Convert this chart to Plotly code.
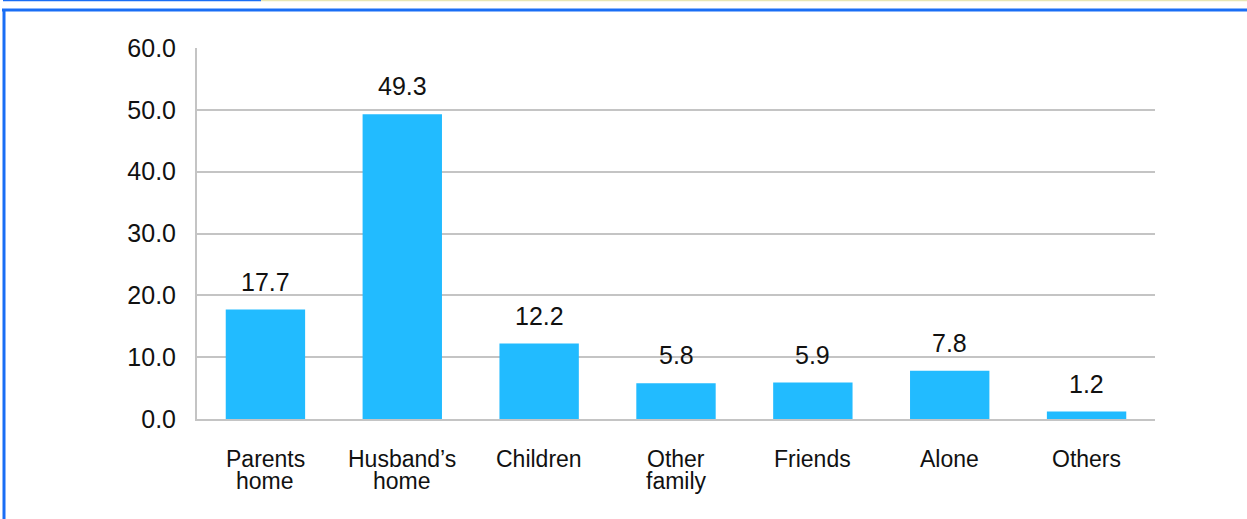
import plotly.graph_objects as go

categories = ["Parents<br>home", "Husband’s<br>home", "Children", "Other<br>family", "Friends", "Alone", "Others"]
values = [17.7, 49.3, 12.2, 5.8, 5.9, 7.8, 1.2]
y_ticks = [0, 10, 20, 30, 40, 50, 60]
y_tick_labels = ["0.0", "10.0", "20.0", "30.0", "40.0", "50.0", "60.0"]

W, H = 1247, 519
L, R, T, B = 197, 92, 48, 100
pw, ph = W - L - R, H - T - B
FONT = "Liberation Sans, Arial, Helvetica"

def px(x):
    return (x - L) / pw

def py(y):
    return (H - B - y) / ph

fig = go.Figure()
fig.add_trace(go.Bar(
    x=categories, y=values,
    marker=dict(color="#22BBFF", line=dict(width=0)),
))

annotations = []
# value labels above bars
for c, v in zip(categories, values):
    annotations.append(dict(
        x=c, y=v, xref="x", yref="y", text=f"{v:.1f}", showarrow=False,
        yanchor="bottom", yshift=12,
        font=dict(family=FONT, size=25, color="#111111"),
    ))
# category labels (tight line spacing)
line_centers = [459, 481]
for c in categories:
    for i, part in enumerate(c.split("<br>")):
        annotations.append(dict(
            x=c, y=py(line_centers[i]), xref="x", yref="paper", text=part, showarrow=False,
            yanchor="middle",
            font=dict(family=FONT, size=23, color="#111111"),
        ))

fig.update_layout(
    width=W, height=H,
    margin=dict(l=L, r=R, t=T, b=B, pad=0),
    paper_bgcolor="white", plot_bgcolor="white",
    bargap=0.42,
    showlegend=False,
    font=dict(family=FONT, size=20, color="#111111"),
    xaxis=dict(
        showgrid=False, showline=True, linecolor="#c4c4c4", linewidth=2,
        showticklabels=False, ticks="",
    ),
    yaxis=dict(
        range=[0, 60], tickvals=y_ticks, ticktext=y_tick_labels,
        showgrid=True, gridcolor="#c4c4c4", gridwidth=1.5,
        showline=True, linecolor="#c4c4c4", linewidth=2,
        ticks="outside", ticklen=14, tickcolor="rgba(0,0,0,0)",
        tickfont=dict(family=FONT, size=25, color="#111111"), zeroline=False,
    ),
    annotations=annotations,
    shapes=[
        dict(type="line", xref="paper", yref="paper", x0=px(3), x1=px(261), y0=py(0.5), y1=py(0.5),
             line=dict(color="#1a6ef5", width=1.5)),
        dict(type="line", xref="paper", yref="paper", x0=px(261), x1=px(1247), y0=py(0.5), y1=py(0.5),
             line=dict(color="#e8e6b4", width=1.5)),
        dict(type="line", xref="paper", yref="paper", x0=px(2), x1=px(1247), y0=py(10), y1=py(10),
             line=dict(color="#1a6ef5", width=3)),
        dict(type="line", xref="paper", yref="paper", x0=px(4), x1=px(4), y0=py(9), y1=py(519),
             line=dict(color="#1a6ef5", width=3)),
    ],
)

fig.write_html("out.html")
